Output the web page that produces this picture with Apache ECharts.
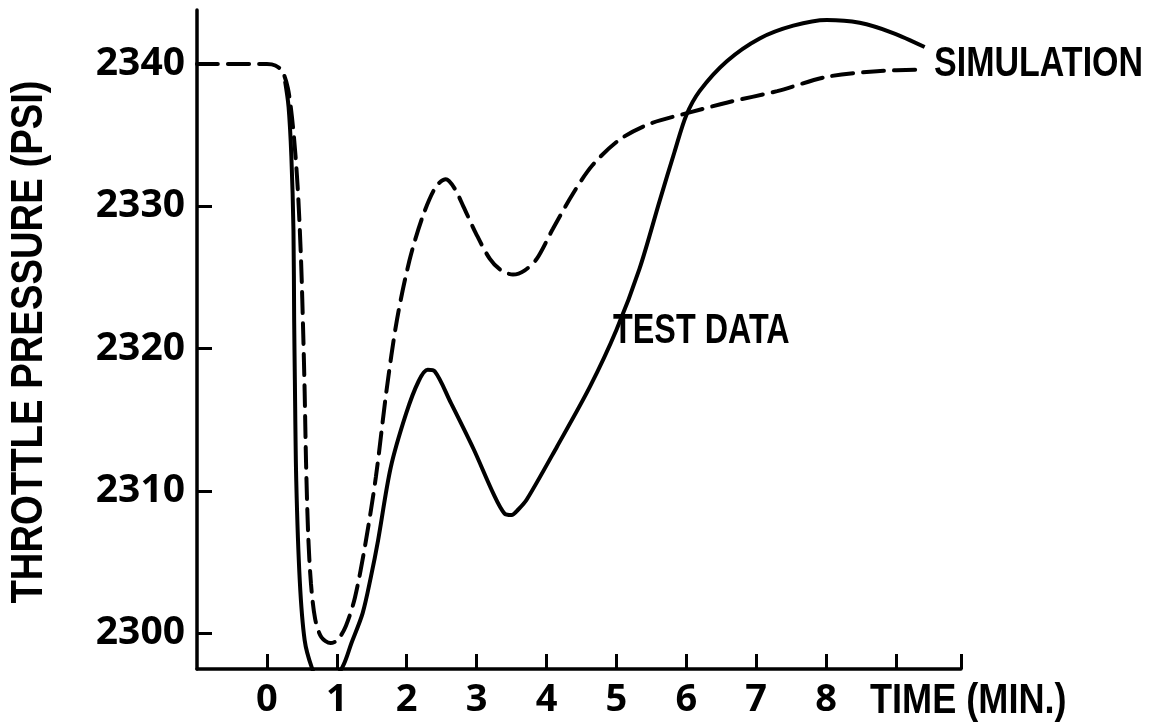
<!DOCTYPE html>
<html>
<head>
<meta charset="utf-8">
<script src="https://cdn.jsdelivr.net/npm/echarts@6/dist/echarts.min.js"></script>
<style>
html,body{margin:0;padding:0;background:#fff;}
#c{width:1156px;height:726px;}
</style>
</head>
<body>
<div id="c"></div>
<script>
// Simulation (dashed) : [time (min), pressure (psi)]
const simTime = [-1.0, 0.0, 0.12, 0.22, 0.30, 0.36, 0.41, 0.45, 0.49, 0.52, 0.54, 0.56, 0.59, 0.63, 0.69, 0.78, 0.91, 1.01, 1.13, 1.26, 1.41, 1.56, 1.71, 1.86, 2.04, 2.23, 2.42, 2.56, 2.68, 2.81, 2.99, 3.19, 3.35, 3.52, 3.69, 3.86, 4.09, 4.38, 4.66, 5.05, 5.48, 6.05, 6.59, 7.30, 8.01, 8.73, 9.37];
const simPress = [2340, 2340, 2339.9, 2339.5, 2338.3, 2336.2, 2333.5, 2330.5, 2326, 2321, 2317, 2312, 2307, 2303.5, 2301, 2299.7, 2299.3, 2299.5, 2300.5, 2302.5, 2306.3, 2311, 2317, 2322, 2326.2, 2329.3, 2331.4, 2331.9, 2331.3, 2330, 2328.1, 2326.3, 2325.5, 2325.2, 2325.5, 2326.3, 2328.4, 2330.9, 2332.9, 2334.7, 2335.8, 2336.6, 2337.3, 2338.1, 2339.1, 2339.5, 2339.6];

// Test data (solid)
const testTime = [0.26, 0.31, 0.35, 0.38, 0.39, 0.40, 0.42, 0.47, 0.54, 0.64, 0.80, 1.08, 1.21, 1.37, 1.49, 1.59, 1.77, 1.99, 2.17, 2.30, 2.40, 2.63, 2.96, 3.24, 3.40, 3.50, 3.60, 3.72, 4.15, 4.62, 5.00, 5.33, 5.62, 5.83, 6.00, 6.19, 6.58, 7.05, 7.53, 8.01, 8.48, 8.95, 9.41];
const testPress = [2338.8, 2337, 2333.5, 2328.3, 2322, 2317.8, 2310.7, 2303.7, 2299.5, 2297.6, 2295.8, 2297.6, 2299.3, 2301.4, 2304, 2306.5, 2311.6, 2315.4, 2317.7, 2318.5, 2318.4, 2316.2, 2312.9, 2309.8, 2308.4, 2308.3, 2308.7, 2309.4, 2313.1, 2317.3, 2321.3, 2325.6, 2330.4, 2333.8, 2336.4, 2338.1, 2340.2, 2341.8, 2342.7, 2343.1, 2342.9, 2342.2, 2341.2];

const xTickValues = [0, 1, 2, 3, 4, 5, 6, 7, 8, 9, 9.93];
const xLabelValues = [0, 1, 2, 3, 4, 5, 6, 7, 8];
const yTickValues = [2300, 2310, 2320, 2330, 2340];

const xAxisTitle = 'TIME (MIN.)';
const yAxisTitle = 'THROTTLE PRESSURE (PSI)';
const simLabel = 'SIMULATION';
const testLabel = 'TEST DATA';

const zip = (a, b) => a.map((v, i) => [v, b[i]]);
const TXT = '"Liberation Sans", Arial, sans-serif';
const NUM = '"Open Sans", "DejaVu Sans", sans-serif';

const chart = echarts.init(document.getElementById('c'), null, {renderer: 'canvas'});
chart.setOption({
  backgroundColor: '#ffffff',
  animation: false,
  grid: {left: 197, right: 195, top: 10, bottom: 57, containLabel: false},
  xAxis: {
    type: 'value', min: -1, max: 9.93,
    axisLine: {show: true, onZero: false, lineStyle: {color: '#000', width: 3.5}},
    axisTick: {show: true, inside: true, length: 15, lineStyle: {color: '#000', width: 3}, customValues: xTickValues},
    axisLabel: {show: true, customValues: xLabelValues, margin: 12, color: '#000', fontFamily: NUM, fontWeight: 'bold', fontSize: 38,
      formatter: v => String(v)},
    splitLine: {show: false}
  },
  yAxis: {
    type: 'value', min: 2297.47, max: 2343.8,
    axisLine: {show: true, onZero: false, lineStyle: {color: '#000', width: 3.5}},
    axisTick: {show: true, inside: true, length: 15, lineStyle: {color: '#000', width: 3}, customValues: yTickValues},
    axisLabel: {show: true, customValues: yTickValues, margin: 12, color: '#000', fontFamily: NUM, fontWeight: 'bold', fontSize: 39,
      formatter: v => String(v)},
    splitLine: {show: false}
  },
  series: [
    {
      name: simLabel, type: 'line', data: zip(simTime, simPress), showSymbol: false,
      smooth: 0.3, clip: true,
      lineStyle: {color: '#000', width: 4, type: [21, 10], cap: 'round'}
    },
    {
      name: testLabel, type: 'line', data: zip(testTime, testPress), showSymbol: false,
      smooth: 0.3, clip: true,
      lineStyle: {color: '#000', width: 4}
    }
  ],
  graphic: [
    {type: 'text', x: 30, y: 342, rotation: Math.PI / 2, scaleX: 0.87,
      style: {text: yAxisTitle, fill: '#000', font: 'bold 44px ' + TXT, textAlign: 'center', textVerticalAlign: 'middle'}},
    {type: 'text', x: 870, y: 701, scaleX: 0.86,
      style: {text: xAxisTitle, fill: '#000', font: 'bold 42px ' + TXT, textAlign: 'left', textVerticalAlign: 'middle'}},
    {type: 'text', x: 934, y: 64, scaleX: 0.81,
      style: {text: simLabel, fill: '#000', font: 'bold 42px ' + TXT, textAlign: 'left', textVerticalAlign: 'middle'}},
    {type: 'text', x: 613, y: 331, scaleX: 0.77,
      style: {text: testLabel, fill: '#000', font: 'bold 42px ' + TXT, textAlign: 'left', textVerticalAlign: 'middle'}}
  ]
});
</script>
</body>
</html>
